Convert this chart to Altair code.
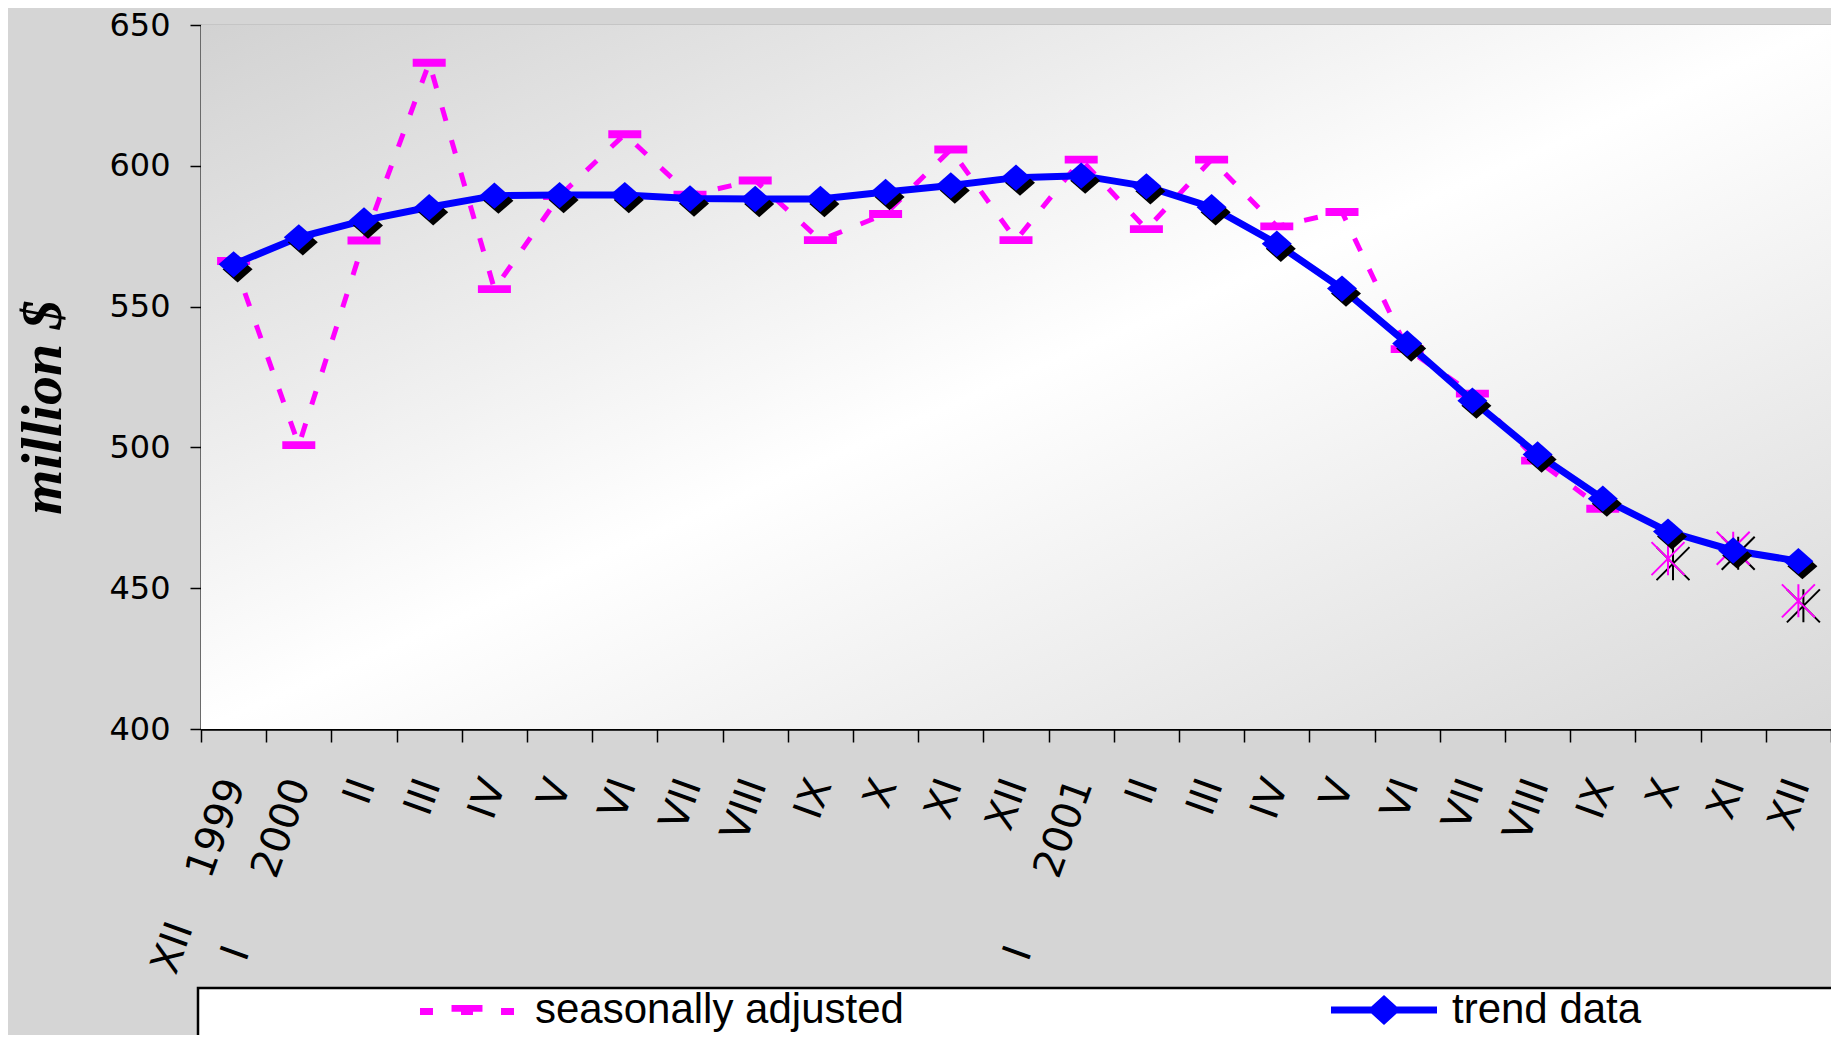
import altair as alt
import pandas as pd

NB = "\u00a0"
# category labels (month + year for the first month of each year)
x_labels = ["XII" + NB * 4 + "1999", "I" + NB * 6 + "2000", "II", "III", "IV", "V", "VI", "VII",
            "VIII", "IX", "X", "XI", "XII",
            "I" + NB * 6 + "2001", "II", "III", "IV", "V", "VI", "VII", "VIII", "IX", "X", "XI", "XII"]

trend = [565.0, 574.6, 580.6, 585.3, 589.4, 589.6, 589.6, 588.4, 588.2, 588.2, 590.7, 593.0,
         595.8, 596.5, 592.7, 585.3, 572.3, 556.4, 536.9, 516.6, 497.5, 481.8, 470.1, 463.4, 459.6]

# seasonally adjusted, XII 1999 .. IX 2001
seasonally_adjusted = [566.2, 500.8, 573.5, 636.6, 556.2, 589.3, 611.2, 589.7, 594.8, 573.6,
                       582.9, 605.8, 573.6, 602.2, 577.5, 602.2, 578.5, 583.6, 534.9, 519.1,
                       495.3, 478.2]
# preliminary seasonally adjusted, X .. XII 2001
preliminary = [460.5, 464.2, 445.5]

series_names = ["seasonally adjusted", "trend data"]
series_colors = ["#ff00ff", "#0000ff"]
y_ticks = [400, 450, 500, 550, 600, 650]

n = len(x_labels)
TOP = 17
W, H = 1630, 704

trend_df = pd.DataFrame({"idx": list(range(n)), "value": trend})
sa_df = pd.DataFrame({"idx": list(range(len(seasonally_adjusted))), "value": seasonally_adjusted})
pre_df = pd.DataFrame({"idx": list(range(n - len(preliminary), n)), "value": preliminary})
legend_df = pd.DataFrame({"series": series_names})
one_df = pd.DataFrame({"k": [0]})

label_array = "[" + ",".join("'" + s + "'" for s in x_labels) + "]"

x_axis = alt.Axis(
    title=None, labelExpr=label_array + "[datum.value]", labelAngle=290, labelAlign="right",
    labelBaseline="middle", labelFont="DejaVu Sans", labelFontSize=40, labelColor="black",
    labelPadding=38, labelOverlap=False, labelLimit=500, tickSize=13, tickWidth=1.5,
    tickColor="black", tickBand="extent", domainColor="black", domainWidth=2.5, grid=False,
)
y_axis = alt.Axis(
    values=y_ticks, title="million $", titleFont="Liberation Serif", titleFontWeight="bold",
    titleFontStyle="italic", titleFontSize=58, titleColor="black", titleAngle=270,
    titleAlign="center", titleBaseline="middle", titleX=-158, titleY=382,
    labelFont="DejaVu Sans", labelFontSize=32, labelColor="black", labelPadding=20,
    tickSize=11, tickWidth=1.5, tickColor="black", domainColor="black", domainWidth=2,
    grid=True, gridColor="#999999", gridWidth=1.5,
)
x_enc = alt.X("idx:O", scale=alt.Scale(type="band", domain=list(range(n)), paddingInner=0,
                                       paddingOuter=0), axis=x_axis)
y_enc = alt.Y("value:Q", scale=alt.Scale(domain=[400, 650], nice=False, zero=False), axis=y_axis)

DIAMOND = "M0,-0.88L1,0L0,0.88L-1,0Z"
BAR = "M-1,-0.24H1V0.24H-1Z"
STAR = "M-1,-1L1,1M-1,1L1,-1M0,-1V1"
LEG_SA = ("M-0.887,-0.038H-0.642V0.094H-0.887Z M-0.292,-0.094H0.292V0.032H0.113V0.094H-0.113"
          "V0.032H-0.292Z M0.642,-0.038H0.887V0.094H0.642Z")
LEG_TREND = "M-1,-0.066H1V0.066H-1Z M0,-0.283L0.311,0L0,0.283L-0.311,0Z"

bg = alt.Chart(one_df).mark_rect(
    fill=alt.LinearGradient(
        gradient="linear", x1=0, y1=0, x2=1, y2=1,
        stops=[alt.GradientStop(color="#d2d2d2", offset=0),
               alt.GradientStop(color="#ffffff", offset=0.5),
               alt.GradientStop(color="#d8d8d8", offset=1)]),
).encode(x=alt.value(0), x2=alt.value(W), y=alt.value(0), y2=alt.value(H))

legend_box = alt.Chart(one_df).mark_rect(
    fill="white", stroke="black", strokeWidth=2.5
).encode(x=alt.value(-3), x2=alt.value(W + 50), y=alt.value(988 - 8 - TOP),
         y2=alt.value(H + 400))

sa_line = alt.Chart(sa_df).mark_line(
    color="#ff00ff", strokeWidth=5, strokeDash=[14, 20]
).encode(x=x_enc, y=y_enc)
sa_pts = alt.Chart(sa_df).mark_point(
    shape=BAR, filled=True, color="#ff00ff", size=1089, opacity=1
).encode(x=x_enc, y=y_enc)

pre_shadow = alt.Chart(pre_df).mark_point(
    shape=STAR, filled=False, color="black", size=1089, strokeWidth=2, opacity=1,
    xOffset=5, yOffset=5
).encode(x=x_enc, y=y_enc)
pre_pts = alt.Chart(pre_df).mark_point(
    shape=STAR, filled=False, color="#ff00ff", size=1089, strokeWidth=2, opacity=1
).encode(x=x_enc, y=y_enc)

trend_line = alt.Chart(trend_df).mark_line(color="#0000ff", strokeWidth=7).encode(x=x_enc, y=y_enc)
trend_shadow = alt.Chart(trend_df).mark_point(
    shape=DIAMOND, filled=True, color="black", size=900, opacity=1, xOffset=4, yOffset=5
).encode(x=x_enc, y=y_enc)
trend_pts = alt.Chart(trend_df).mark_point(
    shape=DIAMOND, filled=True, color="#0000ff", size=900, opacity=1
).encode(x=x_enc, y=y_enc)

legend = alt.Legend(
    title=None, orient="none", legendX=213, legendY=1010 - 8 - TOP - 53, direction="horizontal",
    symbolSize=11236, symbolStrokeWidth=0, labelFont="Liberation Sans", labelFontSize=42,
    labelColor="black", labelOffset=15, columnPadding=427, padding=0, symbolOpacity=1,
    labelLimit=800,
)
legend_layer = alt.Chart(legend_df).mark_point(filled=True, opacity=1).encode(
    x=alt.value(5000), y=alt.value(5000),
    color=alt.Color("series:N", scale=alt.Scale(domain=series_names, range=series_colors),
                    legend=legend),
    shape=alt.Shape("series:N", scale=alt.Scale(domain=series_names, range=[LEG_SA, LEG_TREND]),
                    legend=legend),
)

chart = alt.layer(
    bg, legend_box, sa_line, sa_pts, pre_shadow, pre_pts, trend_line, trend_shadow, trend_pts,
    legend_layer
).properties(
    width=W, height=H,
    autosize=alt.AutoSizeParams(type="none"),
    padding={"left": 193, "top": TOP, "right": 0, "bottom": 1027 - TOP - H},
).configure(background="#d5d5d5").configure_view(stroke="transparent")

chart.save("out.html", embed_options={"renderer": "svg", "actions": False})
